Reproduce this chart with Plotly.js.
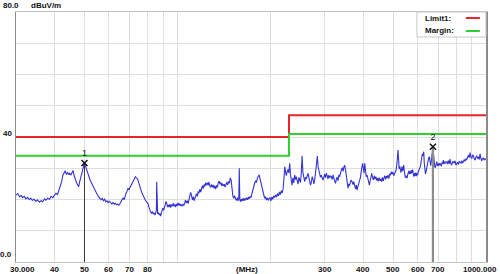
<!DOCTYPE html>
<html>
<head>
<meta charset="utf-8">
<script src="https://cdn.plot.ly/plotly-3.0.1.min.js"></script>
<style>
html,body{margin:0;padding:0;background:#fff;}
#chart{width:500px;height:274px;}
</style>
</head>
<body>
<div id="chart"></div>
<script>
// ---- Data ----
var freqMHz = [
30.0,30.4,30.8,31.2,31.5,31.9,32.3,32.7,33.1,33.5,33.9,34.3,34.8,35.2,35.7,36.2,36.6,37.1,37.5,38.0,
38.5,39.0,39.5,40.0,40.4,40.9,41.4,41.8,42.2,42.5,42.9,43.3,43.7,44.1,44.5,44.8,45.2,45.6,45.9,46.3,
46.6,46.9,47.3,47.6,47.9,48.2,48.5,48.8,49.1,49.4,49.7,50.0,50.3,50.6,50.9,51.2,51.6,51.9,52.2,52.5,
52.9,53.3,53.7,54.1,54.5,55.0,55.5,56.0,56.6,57.1,57.6,58.1,58.6,59.1,59.6,60.2,60.7,61.3,61.8,62.4,
62.9,63.5,64.0,64.6,65.1,65.7,66.2,66.7,67.2,67.7,68.2,68.7,69.2,69.7,70.3,70.8,71.3,71.7,72.2,72.7,
73.1,73.5,74.0,74.5,74.9,75.4,75.9,76.4,76.9,77.4,77.9,78.4,78.9,79.4,79.9,80.4,80.9,81.4,81.9,82.5,
83.0,83.5,84.1,84.6,85.1,85.5,85.7,85.9,86.3,86.8,87.3,87.8,88.3,88.8,89.3,89.8,90.3,90.9,91.4,91.9,
92.4,93.0,93.5,94.0,94.6,95.1,95.7,96.3,96.9,97.5,98.1,98.7,99.3,99.9,100.5,101.1,101.7,102.4,103.0,103.6,
104.3,104.9,
105.5,106.2,106.9,107.7,108.4,109.1,109.8,110.5,111.2,111.9,112.6,113.3,114.0,114.7,115.4,116.1,116.8,117.5,118.3,119.0,
119.7,120.5,121.2,122.0,122.7,123.5,124.2,125.0,125.8,126.6,127.4,128.2,129.0,129.8,130.6,131.5,132.3,133.1,134.0,134.8,
135.7,136.5,137.4,138.3,139.1,140.0,140.9,141.8,142.7,143.7,144.6,145.5,146.5,147.4,148.4,149.4,150.3,151.3,152.3,153.3,
154.3,155.4,156.4,157.4,158.1,158.7,159.3,160.0,161.1,162.2,163.2,164.3,165.4,166.5,167.6,168.8,169.9,171.0,172.2,173.3,
174.5,175.7,176.8,178.0,179.2,180.4,181.6,182.9,184.1,185.3,186.6,187.8,189.1,190.4,191.7,193.0,194.3,195.6,196.9,198.2,
199.5,200.9,202.4,203.8,205.3,206.7,208.2,209.7,211.2,212.7,214.2,215.7,217.2,218.7,220.2,221.5,222.8,224.1,225.4,226.8,
228.2,229.7,231.2,232.5,233.9,235.2,236.8,238.3,239.9,241.4,242.9,244.4,246.0,247.6,249.1,250.5,252.0,253.5,255.2,256.9,
258.6,260.2,261.8,263.5,265.1,266.8,268.5,270.0,271.7,273.4,275.1,276.9,278.6,280.5,282.3,284.1,285.8,287.5,289.2,290.9,
292.7,294.5,296.4,298.2,300.1,301.9,303.8,305.7,307.6,309.5,311.4,313.4,315.4,317.4,319.4,321.3,323.3,325.3,327.3,329.4,
331.5,333.6,335.8,337.9,340.0,342.2,344.3,346.4,348.5,350.7,352.8,355.0,357.2,359.4,361.6,363.9,366.1,
368.4,370.7,373.0,375.3,377.6,380.0,382.2,384.6,387.0,389.3,391.6,393.8,396.0,398.2,400.5,402.6,404.7,406.9,409.2,411.7,
414.1,416.6,419.0,421.4,423.9,426.4,428.9,431.6,434.3,437.0,439.6,442.3,445.0,447.7,450.4,453.2,456.0,458.8,461.6,464.4,
467.2,470.1,473.0,475.8,478.7,481.6,484.5,487.5,490.5,493.4,496.4,499.4,502.5,505.5,508.6,511.6,514.7,516.8,518.8,521.0,
523.1,525.5,527.8,530.2,532.5,534.9,537.2,539.4,541.4,543.6,545.8,548.0,550.2,552.6,554.9,557.4,560.0,562.7,565.3,568.0,
570.6,573.2,575.9,578.6,581.3,584.0,586.8,589.6,592.4,595.1,597.8,600.6,603.4,606.2,609.5,612.7,615.8,618.9,622.1,625.3,
628.4,631.0,633.7,636.5,639.4,642.5,645.6,648.8,652.0,655.3,658.6,661.9,665.3,668.9,671.0,673.0,675.2,677.5,679.8,682.2,
686.0,689.2,692.4,695.6,698.8,702.0,705.8,709.6,713.2,716.8,720.3,724.0,727.6,731.2,734.6,738.4,742.3,746.2,750.8,755.4,
760.0,764.7,769.4,774.1,779.0,783.9,788.8,793.8,799.0,804.0,809.0,814.0,819.0,824.2,829.6,834.8,840.0,844.9,850.2,855.6,
861.0,866.3,871.7,877.0,882.5,888.0,893.6,899.2,905.0,910.5,916.3,922.0,927.7,933.4,939.2,945.1,951.0,956.7,962.6,968.8,
975.0,981.0,987.0,993.0,1000.0
];
var levelDb = [
21.4,21.9,20.9,21.3,20.6,21.0,20.2,20.7,20.0,20.4,19.7,20.1,19.4,19.9,19.2,19.6,19.3,20.2,19.8,20.4,
20.1,21.0,20.6,21.6,22.0,21.6,23.4,24.0,25.8,27.6,28.7,29.2,28.0,28.6,27.9,28.4,27.8,28.9,29.3,27.6,
26.5,26.0,25.0,24.5,24.1,25.6,26.6,27.8,28.9,30.1,30.9,31.7,30.9,30.0,29.4,28.8,27.9,26.8,26.1,25.6,
24.9,24.3,23.3,22.8,22.0,21.6,21.0,20.6,19.9,20.4,19.6,20.1,19.3,19.6,19.0,19.4,18.9,18.6,19.0,18.5,
18.8,18.3,18.6,18.2,18.6,19.4,19.9,20.6,19.9,21.2,22.0,22.6,23.5,23.2,24.0,24.7,25.1,25.8,26.3,26.9,
27.3,27.0,26.8,26.2,25.3,24.4,23.3,22.7,21.9,21.2,20.6,20.3,19.6,19.3,19.0,18.6,17.5,16.6,16.0,15.6,
16.2,15.3,15.7,15.0,15.6,16.4,25.7,16.0,15.4,15.9,15.0,15.5,14.7,15.9,16.6,17.2,16.5,17.8,18.6,19.4,
18.7,17.6,18.3,17.6,18.5,17.4,18.2,17.9,18.8,17.8,18.4,17.6,18.6,18.0,18.9,18.1,18.7,18.0,18.4,17.8,
18.6,18.1,
18.6,19.8,18.9,19.6,18.7,20.5,21.4,22.3,20.6,19.9,20.9,19.6,20.4,21.3,21.9,21.0,22.6,22.0,23.3,22.4,
24.0,24.4,23.5,24.8,24.1,25.3,24.6,25.4,24.5,25.6,24.3,24.0,24.8,23.9,24.7,23.6,24.4,23.3,24.5,23.9,
25.4,25.9,24.9,25.5,24.4,25.1,24.3,24.9,24.0,24.8,25.5,24.7,25.8,25.2,26.9,26.1,22.6,21.0,20.4,21.2,
20.2,19.7,20.6,19.6,20.2,30.0,20.4,19.3,20.1,19.5,20.4,19.6,20.3,19.8,20.6,19.9,20.8,20.2,21.0,20.6,
22.0,23.4,24.6,25.2,26.0,25.4,26.8,27.6,27.9,26.6,25.4,24.3,22.6,21.0,20.4,20.9,19.8,20.5,19.7,20.3,
20.5,19.6,20.8,20.1,21.2,20.6,21.5,20.8,21.9,21.2,22.4,21.6,22.8,22.1,23.6,26.8,30.5,28.9,27.6,28.8,
29.6,28.5,31.6,28.0,25.4,24.6,26.9,25.3,27.8,26.4,27.3,25.8,24.9,27.1,26.2,25.4,28.4,33.9,28.6,27.0,
25.7,27.1,26.6,27.6,28.4,27.0,25.9,24.6,25.5,27.3,26.5,25.0,26.2,28.9,31.2,33.9,30.4,29.2,28.4,27.1,
27.8,26.8,26.2,27.1,28.1,27.0,28.4,27.6,26.6,27.8,26.9,27.5,27.3,26.4,27.9,26.8,25.9,25.2,26.3,27.2,
26.0,27.8,27.3,28.8,29.6,30.2,29.0,30.4,31.0,29.5,26.8,24.3,23.6,25.0,24.4,25.8,26.2,
25.6,24.8,25.7,24.1,23.4,24.6,23.0,24.2,25.1,26.2,26.9,28.7,30.5,31.6,30.0,28.4,31.6,29.6,27.3,27.8,
26.3,25.4,24.6,26.0,27.2,28.4,27.0,26.3,27.6,26.5,27.3,26.1,26.8,25.9,27.0,26.0,26.6,25.7,27.1,25.9,
26.9,27.6,26.4,27.5,26.9,27.8,26.7,28.2,27.8,28.9,28.1,28.8,27.6,28.2,28.7,29.5,31.8,33.9,35.8,32.8,
29.8,30.7,29.4,28.6,29.8,30.5,29.1,30.3,31.0,29.0,28.1,27.0,27.6,27.3,26.8,27.9,28.6,29.2,28.1,29.0,
28.2,29.4,28.5,29.6,28.0,27.3,28.4,27.6,28.7,27.5,28.4,27.8,28.9,29.4,30.0,30.5,31.8,33.2,34.6,34.0,
35.3,31.6,29.4,28.2,28.9,30.3,31.6,32.9,33.3,33.7,32.1,30.8,32.4,34.6,35.8,36.9,35.0,32.2,30.9,30.5,
30.2,31.4,32.1,31.0,30.7,31.6,30.9,31.6,31.1,30.6,31.9,31.4,32.6,31.3,32.1,31.7,32.0,32.1,31.3,32.4,
31.4,32.9,31.5,31.0,32.0,32.1,31.6,32.4,31.0,31.3,31.9,31.2,32.2,32.0,31.5,32.4,31.8,32.1,32.8,32.2,
33.0,32.8,33.6,34.2,33.4,35.0,33.6,33.1,34.2,34.0,33.0,32.6,33.6,33.9,33.2,33.5,32.8,34.6,33.2,32.4,
33.1,33.2,32.6,33.0,32.8
];

// limit lines (step at 230 MHz)
var limitFreq  = [30, 230, 230, 1000];
var limit1Db   = [40, 40, 47, 47];
var marginDb   = [34, 34, 41, 41];

// markers
var markerFreq  = [50, 673];
var markerDb    = [31.7, 36.9];
var markerLabel = ['1', '2'];

// axis labels
var xTickVals  = [30, 40, 50, 60, 70, 80, 300, 400, 500, 600, 700, 1000];
var xTickText  = ['30.000', '40', '50', '60', '70', '80', '300', '400', '500', '600', '700', '1000.000'];
var xGridVals  = [40, 50, 60, 70, 80, 90, 100, 200, 300, 400, 500, 600, 700, 800, 900];
var yGridVals  = [10, 20, 30, 40, 50, 60, 70];
var yLabelVals = [0, 40];
var yLabelText = ['0.0', '40'];
var yTopText   = '80.0';
var unitText   = 'dBuV/m';
var xUnitText  = '(MHz)';
var legendNames = ['Limit1:', 'Margin:'];

// ---- Chart ----
var FONT = 'Liberation Sans, Arial, sans-serif';
var RED = '#e8262a', GREEN = '#2fd02f';
var TXT = '#111';

var traces = [
  {x: freqMHz, y: levelDb, type: 'scatter', mode: 'lines',
   line: {color: '#3434d2', width: 1.1}, hoverinfo: 'skip'},
  {x: limitFreq, y: limit1Db, type: 'scatter', mode: 'lines',
   line: {color: RED, width: 2}, hoverinfo: 'skip'},
  {x: limitFreq, y: marginDb, type: 'scatter', mode: 'lines',
   line: {color: GREEN, width: 2}, hoverinfo: 'skip'},
  {x: [markerFreq[0], markerFreq[0]], y: [markerDb[0], 0], type: 'scatter', mode: 'lines',
   line: {color: '#3a3a3a', width: 1}, hoverinfo: 'skip'},
  {x: [markerFreq[1], markerFreq[1]], y: [markerDb[1], 0], type: 'scatter', mode: 'lines',
   line: {color: '#8c8c8c', width: 2.2}, hoverinfo: 'skip'},
  {x: markerFreq, y: markerDb, type: 'scatter', mode: 'markers+text',
   marker: {symbol: 'x-thin', size: 6, line: {color: '#111', width: 1.5}, color: '#111'},
   text: markerLabel, textposition: 'top center',
   textfont: {family: FONT, size: 9, color: '#111'}, hoverinfo: 'skip'}
];

var annotations = [];
for (var i = 0; i < xTickVals.length; i++) {
  var sh = 0, anc = 'center';
  if (i === 0) sh = 6;
  if (i === xTickVals.length - 1) { anc = 'right'; sh = 13; }
  annotations.push({x: Math.log10(xTickVals[i]), y: 0, xref: 'x', yref: 'paper',
    text: '<b>' + xTickText[i] + '</b>', showarrow: false, xanchor: anc, yanchor: 'top', yshift: -1, xshift: sh,
    font: {family: FONT, size: 8, color: TXT}});
}
annotations.push({x: Math.log10(168), y: 0, xref: 'x', yref: 'paper', text: '<b>' + xUnitText + '</b>',
  showarrow: false, xanchor: 'center', yanchor: 'top', yshift: -1,
  font: {family: FONT, size: 8, color: TXT}});
for (var j = 0; j < yLabelVals.length; j++) {
  annotations.push({x: 0, y: yLabelVals[j], xref: 'paper', yref: 'y', text: '<b>' + yLabelText[j] + '</b>',
    showarrow: false, xanchor: 'right', yanchor: 'bottom', xshift: -2, yshift: j === 0 ? 1 : -3,
    font: {family: FONT, size: 8, color: TXT}});
}
annotations.push({x: 0, y: 1, xref: 'paper', yref: 'paper', text: '<b>' + yTopText + '</b>', showarrow: false,
  xanchor: 'left', yanchor: 'bottom', xshift: -15, yshift: 0,
  font: {family: FONT, size: 8, color: TXT}});
annotations.push({x: 0, y: 1, xref: 'paper', yref: 'paper', text: '<b>' + unitText + '</b>', showarrow: false,
  xanchor: 'left', yanchor: 'bottom', xshift: 13, yshift: 0,
  font: {family: FONT, size: 8, color: TXT}});
// legend box texts
annotations.push({x: 0.866, y: 0.976, xref: 'paper', yref: 'paper', text: '<b>' + legendNames[0] + '</b>',
  showarrow: false, xanchor: 'left', yanchor: 'middle', font: {family: FONT, size: 8, color: TXT}});
annotations.push({x: 0.866, y: 0.924, xref: 'paper', yref: 'paper', text: '<b>' + legendNames[1] + '</b>',
  showarrow: false, xanchor: 'left', yanchor: 'middle', font: {family: FONT, size: 8, color: TXT}});

var shapes = [
  {type: 'rect', xref: 'paper', yref: 'paper', x0: 0.853, x1: 1, y0: 0.9, y1: 1,
   fillcolor: '#ffffff', line: {color: '#c8c8c8', width: 1}, layer: 'above'},
  {type: 'line', xref: 'paper', yref: 'paper', x0: 0.957, x1: 0.987, y0: 0.976, y1: 0.976,
   line: {color: RED, width: 2}, layer: 'above'},
  {type: 'line', xref: 'paper', yref: 'paper', x0: 0.957, x1: 0.987, y0: 0.924, y1: 0.924,
   line: {color: GREEN, width: 2}, layer: 'above'}
];

var layout = {
  width: 500, height: 274,
  margin: {l: 16, r: 14, t: 12, b: 12, pad: 0},
  paper_bgcolor: '#ffffff', plot_bgcolor: '#ffffff',
  showlegend: false,
  xaxis: {type: 'log', range: [Math.log10(30), Math.log10(1000)],
    tickmode: 'array', tickvals: xGridVals, showticklabels: false, ticks: '',
    showgrid: true, gridcolor: '#dedede', gridwidth: 1, zeroline: false,
    showline: true, mirror: true, linecolor: '#c4c4c4', linewidth: 1},
  yaxis: {range: [0, 80], tickmode: 'array', tickvals: yGridVals, showticklabels: false, ticks: '',
    showgrid: true, gridcolor: '#dedede', gridwidth: 1, zeroline: false,
    showline: true, mirror: true, linecolor: '#8a8a8a', linewidth: 1.5},
  annotations: annotations,
  shapes: shapes,
  font: {family: FONT, size: 8, color: TXT}
};

Plotly.newPlot('chart', traces, layout, {staticPlot: true, displayModeBar: false});
</script>
</body>
</html>
